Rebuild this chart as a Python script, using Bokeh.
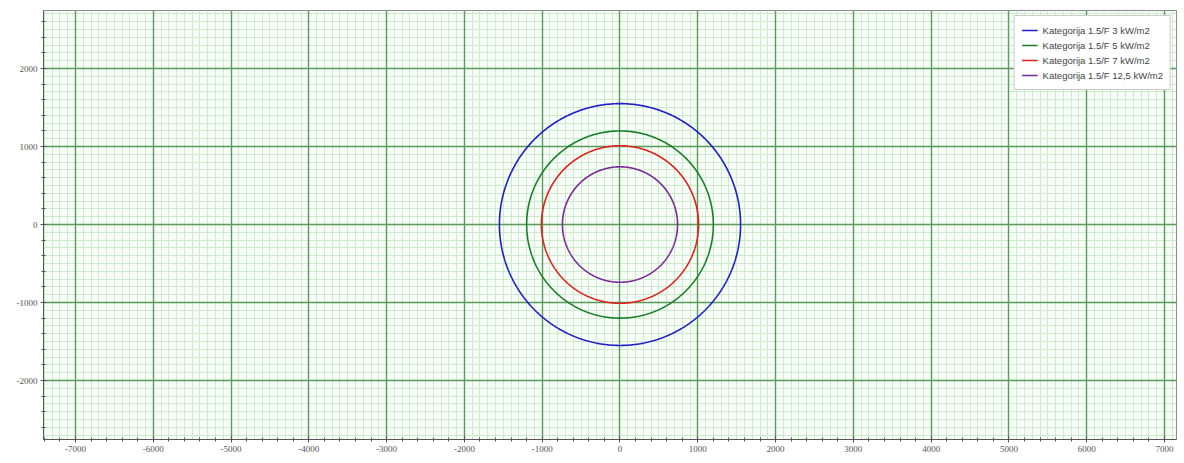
import numpy as np
from bokeh.plotting import figure
from bokeh.models import SingleIntervalTicker, Range1d, Legend, LegendItem, Grid, NumeralTickFormatter
from bokeh.embed import file_html
from bokeh.resources import INLINE

# Data
labels = ["Kategorija 1.5/F 3 kW/m2", "Kategorija 1.5/F 5 kW/m2",
          "Kategorija 1.5/F 7 kW/m2", "Kategorija 1.5/F 12,5 kW/m2"]
radii = [1550, 1200, 1010, 740]
centers_x = [0, 0, 0, 0]
centers_y = [0, 0, 0, 0]
colors = ["#1f1fc8", "#1a7f2a", "#e0201c", "#7b2a9a"]

p = figure(width=1180, height=458, output_backend="svg", toolbar_location=None,
           x_range=Range1d(-7411, 7154), y_range=Range1d(-2756, 2744),
           min_border_left=43, min_border_right=4, min_border_top=10, min_border_bottom=19)

p.background_fill_color = "#f7fdf7"
p.border_fill_color = "white"
p.outline_line_color = "#8a8a8a"
p.outline_line_width = 1

theta = np.linspace(0, 2 * np.pi, 721)
items = []
for lab, r, cx, cy, c in zip(labels, radii, centers_x, centers_y, colors):
    rend = p.line(cx + r * np.cos(theta), cy + r * np.sin(theta), line_color=c, line_width=1.6)
    items.append(LegendItem(label=lab, renderers=[rend]))

for ax in (p.xaxis, p.yaxis):
    ax.ticker = SingleIntervalTicker(interval=1000, num_minor_ticks=5)
    ax.formatter = NumeralTickFormatter(format="0")
    ax.axis_line_color = "#555555"
    ax.major_tick_line_color = "#555555"
    ax.minor_tick_line_color = "#555555"
    ax.major_tick_in = 3
    ax.major_tick_out = 3
    ax.minor_tick_in = 2
    ax.minor_tick_out = 2
    ax.major_label_text_font = "Liberation Serif"
    ax.major_label_text_font_size = "9px"
    ax.major_label_text_color = "#555555"
    ax.major_label_standoff = 3

# Minor grids (bottom level)
for g in (p.xgrid, p.ygrid):
    g.ticker = SingleIntervalTicker(interval=1000, num_minor_ticks=10)
    g.grid_line_color = None
    g.minor_grid_line_color = "#cdeacd"
    g.minor_grid_line_width = 1
    g.level = "image"

# Major grids above minor grids
for dim in (0, 1):
    mg = Grid(dimension=dim, ticker=SingleIntervalTicker(interval=1000, num_minor_ticks=0))
    mg.grid_line_color = "#5a9a5a"
    mg.grid_line_width = 1.4
    mg.level = "underlay"
    p.add_layout(mg)

legend = Legend(items=items, location="top_right")
legend.margin = 5
legend.padding = 7
legend.spacing = 1
legend.glyph_width = 16
legend.glyph_height = 14
legend.label_standoff = 5
legend.label_text_font = "Liberation Sans"
legend.label_text_font_size = "9.5px"
legend.label_text_color = "#444444"
legend.label_height = 14
legend.border_line_color = "#999999"
legend.background_fill_color = "white"
legend.background_fill_alpha = 1
p.add_layout(legend)

open("out.html", "w").write(file_html(p, INLINE))
